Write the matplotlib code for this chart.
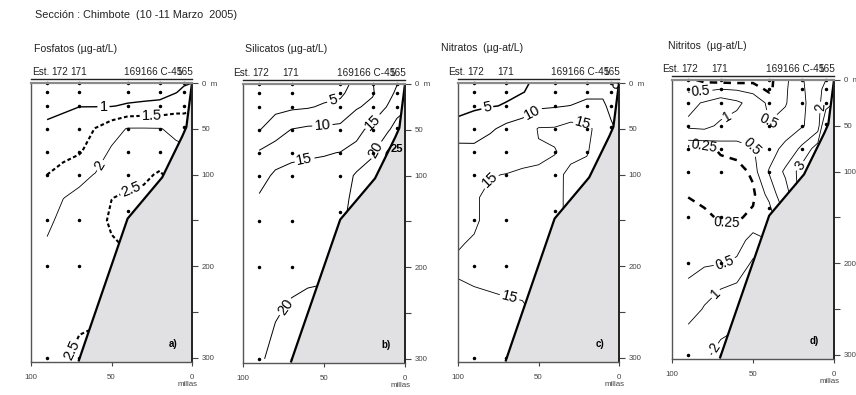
import numpy as np
import matplotlib
matplotlib.use("Agg")
import matplotlib.pyplot as plt

plt.rcParams['font.family'] = ['Liberation Sans', 'DejaVu Sans']

nan = np.nan
# grid: distance offshore (millas) and depth (m)
millas = [100, 90, 80, 70, 60, 50, 40, 30, 20, 10, 5, 0]
prof = [0, 10, 25, 50, 75, 100, 125, 150, 175, 200, 250, 300]

# values (rows = depth, columns = millas)
fosfatos = [
    [nan, 0.60, 0.60, 0.60, 0.60, 0.60, 0.60, 0.60, 0.70, 0.85, 0.95, 1.00],
    [nan, 0.70, 0.70, 0.75, 0.75, 0.80, 0.80, 0.80, 0.85, 0.98, 1.10, 1.15],
    [nan, 0.85, 0.92, 0.99, 0.98, 0.98, 1.05, 1.10, 1.12, 1.30, 1.35, 1.40],
    [nan, 1.10, 1.17, 1.23, 1.52, 1.80, 2.03, 2.03, 2.02, 1.90, 1.80, 1.85],
    [nan, 1.30, 1.37, 1.45, 1.75, 2.07, 2.20, 2.22, 2.25, 2.10, 2.10, 2.10],
    [nan, 1.50, 1.65, 1.88, 2.02, 2.30, 2.38, 2.42, 2.55, 2.30, 2.30, 2.30],
    [nan, 1.70, 1.99, 2.10, 2.20, 2.49, 2.55, 2.60, 2.70, 2.45, 2.45, 2.45],
    [nan, 1.88, 2.15, 2.25, 2.30, 2.58, 2.65, 2.65, 2.70, 2.45, 2.45, 2.45],
    [nan, 2.05, 2.25, 2.30, 2.35, 2.45, 2.55, 2.65, 2.70, 2.45, 2.45, 2.45],
    [nan, 2.15, 2.30, 2.35, 2.40, 2.35, 2.45, 2.65, 2.70, 2.45, 2.45, 2.45],
    [nan, 2.25, 2.40, 2.40, 2.45, 2.35, 2.40, 2.65, 2.70, 2.45, 2.45, 2.45],
    [nan, 2.30, 2.45, 2.60, 2.60, 2.40, 2.40, 2.65, 2.70, 2.45, 2.45, 2.45],
]

silicatos = [
    [nan, 2.0, 2.0, 2.0, 2.0, 2.5, 3.0, 6.5, 9.9, 12.0, 14.8, 15.2],
    [nan, 2.5, 2.5, 2.5, 2.7, 3.5, 4.0, 7.5, 9.6, 13.5, 16.0, 16.5],
    [nan, 3.2, 3.8, 4.2, 4.6, 5.6, 6.5, 9.6, 11.0, 15.7, 18.0, 19.0],
    [nan, 4.8, 7.5, 10.2, 11.0, 11.0, 11.3, 13.1, 17.0, 19.7, 22.0, 24.0],
    [nan, 10.6, 12.6, 14.0, 14.4, 14.7, 15.1, 16.9, 19.6, 26.0, 27.0, 27.0],
    [nan, 13.2, 15.8, 16.3, 16.5, 16.6, 17.5, 20.6, 21.5, 27.0, 28.0, 28.0],
    [nan, 15.5, 17.0, 17.3, 17.5, 17.8, 18.8, 21.0, 22.0, 27.0, 28.0, 28.0],
    [nan, 16.5, 17.8, 18.0, 18.3, 18.6, 19.5, 21.0, 22.0, 27.0, 28.0, 28.0],
    [nan, 17.2, 18.4, 18.6, 18.9, 19.2, 20.0, 21.0, 22.0, 27.0, 28.0, 28.0],
    [nan, 17.8, 18.9, 19.2, 19.5, 19.7, 20.5, 21.0, 22.0, 27.0, 28.0, 28.0],
    [nan, 18.8, 19.8, 20.4, 20.6, 20.5, 21.0, 21.0, 22.0, 27.0, 28.0, 28.0],
    [nan, 19.6, 20.8, 21.0, 21.0, 21.0, 21.0, 21.0, 22.0, 27.0, 28.0, 28.0],
]

nitratos = [
    [3.5, 3.8, 4.0, 4.2, 4.4, 5.8, 6.2, 6.5, 7.0, 7.5, 5.2, 4.0],
    [3.8, 4.1, 4.3, 4.5, 4.8, 6.5, 7.0, 7.5, 8.5, 9.0, 6.5, 5.5],
    [4.3, 4.6, 4.8, 5.2, 7.7, 9.2, 9.6, 10.1, 11.5, 11.0, 8.5, 7.0],
    [5.8, 6.5, 9.2, 11.5, 12.0, 15.3, 15.4, 17.0, 16.0, 13.0, 11.0, 9.0],
    [12.5, 12.0, 13.0, 13.8, 14.2, 14.6, 14.9, 15.6, 15.2, 13.5, 12.0, 10.0],
    [13.2, 14.8, 14.9, 15.05, 15.3, 15.3, 15.6, 14.5, 14.2, 13.5, 12.0, 10.0],
    [13.8, 14.8, 15.4, 15.5, 15.6, 15.6, 15.8, 14.3, 14.0, 13.5, 12.0, 10.0],
    [14.3, 14.7, 15.6, 15.8, 15.8, 15.8, 15.8, 14.3, 14.0, 13.5, 12.0, 10.0],
    [14.85, 15.2, 15.6, 15.8, 15.8, 15.7, 15.5, 14.3, 14.0, 13.5, 12.0, 10.0],
    [15.3, 15.4, 15.5, 15.6, 15.6, 15.6, 15.3, 14.3, 14.0, 13.5, 12.0, 10.0],
    [14.2, 14.5, 14.6, 14.7, 14.8, 15.2, 15.2, 14.3, 14.0, 13.5, 12.0, 10.0],
    [13.5, 14.0, 14.2, 14.3, 14.5, 15.2, 15.2, 14.3, 14.0, 13.5, 12.0, 10.0],
]

nitritos = [
    [nan, 0.30, 0.20, 0.15, 0.15, 0.20, 0.20, 0.40, 0.90, 1.6, 2.0, 2.3],
    [nan, 0.40, 0.40, 0.50, 0.45, 0.35, 0.20, 0.45, 0.80, 1.8, 2.2, 2.5],
    [nan, 0.85, 1.05, 1.30, 1.10, 0.80, 0.40, 0.48, 0.70, 1.8, 2.4, 3.0],
    [nan, 1.10, 1.15, 0.90, 0.80, 0.70, 0.52, 0.60, 0.90, 1.5, 4.5, 6.0],
    [nan, 0.15, 0.15, 0.30, 0.35, 0.48, 0.70, 1.20, 2.20, 3.5, 5.0, 6.0],
    [nan, 0.10, 0.10, 0.12, 0.15, 0.30, 1.05, 2.20, 3.40, 4.0, 5.0, 6.0],
    [nan, 0.24, 0.18, 0.15, 0.15, 0.20, 0.60, 1.50, 3.50, 4.0, 5.0, 6.0],
    [nan, 0.32, 0.30, 0.22, 0.22, 0.30, 0.30, 1.00, 3.50, 4.0, 5.0, 6.0],
    [nan, 0.38, 0.38, 0.35, 0.38, 0.60, 0.50, 1.00, 3.50, 4.0, 5.0, 6.0],
    [nan, 0.40, 0.45, 0.48, 0.55, 1.10, 1.00, 1.00, 3.50, 4.0, 5.0, 6.0],
    [nan, 0.70, 1.05, 1.40, 1.60, 1.80, 1.50, 1.50, 3.50, 4.0, 5.0, 6.0],
    [nan, 1.60, 1.80, 2.30, 2.50, 2.50, 2.00, 2.00, 3.50, 4.0, 5.0, 6.0],
]

# shelf / bottom profile
shelf_millas = [0, 3.5, 6, 18.5, 40, 63.5, 70.5]
shelf_prof = [0, 48, 58, 103, 148, 268, 304]

# sampling stations
est_millas = [90, 70, 40, 20, 5]
est_prof = [
    [0, 10, 25, 50, 75, 100, 150, 200, 300],
    [0, 10, 25, 50, 75, 100, 150, 200, 300],
    [0, 10, 25, 50, 75, 100, 140],
    [0, 10, 25, 50, 75],
    [0, 10, 25, 48],
]

titulo = "Sección : Chimbote  (10 -11 Marzo  2005)"
paneles = ["Fosfatos (µg-at/L)", "Silicatos (µg-at/L)",
           "Nitratos  (µg-at/L)", "Nitritos  (µg-at/L)"]
letras = ["a)", "b)", "c)", "d)"]

W, H = 856, 395
fig = plt.figure(figsize=(W / 100, H / 100), dpi=100)
fig.patch.set_facecolor('white')

boxes = [(31, 192, 83), (243, 405, 84), (458, 619, 83), (672, 834, 80)]
title_pos = [(34, 49), (245, 49), (441, 48), (668, 46)]
AXH = 278.5

DASH_A = (0, (1.8, 1.2))
DASH_D = (0, (3, 2.5))
D = {
    0: dict(Z=fosfatos, fs=10.5, lines=[
        (1, 1.0, 'solid', [(55, 25)]),
        (1.5, 1.5, DASH_A, [(25, 35)]),
        (2, 0.6, 'solid', [(55, 92)]),
        (2.5, 1.5, DASH_A, [(38, 115), (74, 292)])]),
    1: dict(Z=silicatos, fs=10.5, lines=[
        (5, 0.7, 'solid', [(44, 21)]),
        (10, 0.7, 'solid', [(51, 45)]),
        (15, 0.7, 'solid', [(62, 83), (22, 38)]),
        (20, 0.7, 'solid', [(18, 72), (74, 243)]),
        (25, 0.9, 'solid', [])]),
    2: dict(Z=nitratos, fs=10.5, lines=[
        (5, 1.1, 'solid', [(81, 33), (3, 3)]),
        (10, 0.7, 'solid', [(54, 31)]),
        (15, 0.6, 'solid', [(22, 40), (82, 104), (68, 234)])]),
    3: dict(Z=nitritos, fs=9.8, lines=[
        (0.25, 1.8, DASH_D, [(80, 70), (66, 152)]),
        (0.5, 0.6, 'solid', [(82, 14), (50, 70), (40, 45), (67, 203)]),
        (1, 0.6, 'solid', [(66, 40), (71, 237)]),
        (2, 0.6, 'solid', [(74, 292), (8, 30)]),
        (3, 0.6, 'solid', [(23, 91)])]),
}

fig.text(35 / W, 1 - 15 / H, titulo, fontsize=7.8, va='center', ha='left',
         color='#222')

X, Y = np.meshgrid(millas, prof)

for i, (l, r, t) in enumerate(boxes):
    ax = fig.add_axes([l / W, 1 - (t + AXH) / H, (r - l) / W, AXH / H])
    ax.set_xlim(100, 0)
    ax.set_ylim(304, 0)
    cfg = D[i]
    Zm = np.ma.masked_invalid(np.array(cfg['Z'], float))
    for lev, lw, ls, pts in cfg['lines']:
        cs = ax.contour(X, Y, Zm, levels=[lev], colors='k',
                        linewidths=lw, linestyles=[ls], zorder=2)
        if pts:
            ax.clabel(cs, manual=pts, inline=True, inline_spacing=2,
                      fontsize=cfg['fs'], fmt=lambda v: f'{v:g}', zorder=5)

    # stations
    for xs, ps in zip(est_millas, est_prof):
        ax.plot([xs] * len(ps), ps, 'o', ms=1.5, color='k', zorder=2.2,
                clip_on=False)

    # shelf
    ax.fill_betweenx(shelf_prof, shelf_millas, 0, color='#e1e1e3', zorder=3,
                     linewidth=0)
    ax.plot(shelf_millas, shelf_prof, color='k', lw=1.6, zorder=4,
            solid_capstyle='butt')

    # spines
    for s in ['left', 'bottom']:
        ax.spines[s].set_color('#555555')
        ax.spines[s].set_linewidth(1.0)
    ax.spines['top'].set_color('#8a8a8a')
    ax.spines['top'].set_linewidth(1.6)
    ax.spines['right'].set_color('#222222')
    ax.spines['right'].set_linewidth(1.4)
    for sp in ax.spines.values():
        sp.set_zorder(4.5)

    ax.yaxis.tick_right()
    ax.set_yticks([0, 50, 100, 150, 200, 250, 300])
    ax.set_yticklabels(['0  m', '50', '100', '', '200', '', '300'])
    ax.tick_params(axis='y', direction='out', length=4, width=0.8,
                   labelsize=5.7, pad=3, colors='#444444')
    ax.set_xticks([100, 50, 0])
    ax.set_xticklabels(['100', '50', '0'])
    ax.tick_params(axis='x', direction='out', length=3, width=0.8,
                   labelsize=5.7, pad=6, colors='#444444')
    ax.text(3, -0.083, 'millas', transform=ax.get_xaxis_transform(),
            fontsize=5.7, ha='center', va='center', color='#444444')

    # station header
    tr = ax.get_xaxis_transform()
    yl = 1 + 4.5 / AXH
    ax.plot([100, 0], [yl, yl], transform=tr, clip_on=False, color='#222222',
            lw=1.0)
    yt = 1 + 6.0 / AXH
    tk = dict(transform=tr, fontsize=7.2, va='bottom', clip_on=False,
              color='#222222')
    if i == 0:
        ax.text(99.4, yt, 'Est.', ha='left', **tk)
        ax.text(82, yt, '172', ha='center', **tk)
    else:
        ax.text(95.5, yt, 'Est.', ha='right', **tk)
        ax.text(89, yt, '172', ha='center', **tk)
    ax.text(70.5, yt, '171', ha='center', **tk)
    ax.text(6.0, yt, '169166 C-45', ha='right', **tk)
    ax.text(-1.0, yt, '165', ha='right', **tk)

    if i == 1:
        ax.text(5, 71, '25', fontsize=8, fontweight='bold', ha='center',
                va='center', zorder=6)

    ax.text(12, 285, letras[i], fontsize=7, fontweight='bold', ha='center',
            va='center', zorder=6)

    tx, ty = title_pos[i]
    fig.text(tx / W, 1 - ty / H, paneles[i], fontsize=7.6, ha='left',
             va='center', color='#222')

fig.savefig('out.png', dpi=100, facecolor='white')
